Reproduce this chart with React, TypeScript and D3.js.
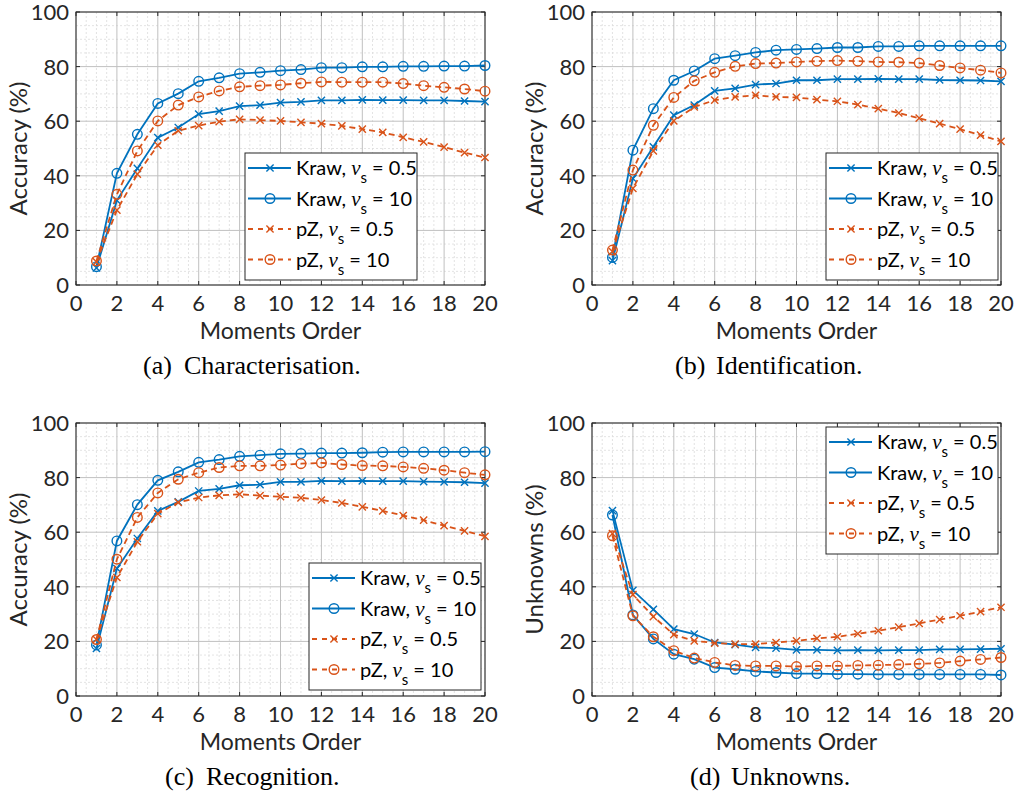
import React from "react";
import * as d3 from "d3";

const orders = [1, 2, 3, 4, 5, 6, 7, 8, 9, 10, 11, 12, 13, 14, 15, 16, 17, 18, 19, 20];
const xTicks = [0, 2, 4, 6, 8, 10, 12, 14, 16, 18, 20];
const yTicks = [0, 20, 40, 60, 80, 100];

// (a) Characterisation
const charKraw05 = [6.3, 31, 42.7, 54, 57.7, 62.6, 63.7, 65.5, 65.9, 66.8, 67.1, 67.6, 67.6, 67.8, 67.7, 67.7, 67.6, 67.6, 67.4, 67.2];
const charKraw10 = [6.7, 40.9, 55.2, 66.5, 70.1, 74.6, 75.9, 77.4, 77.9, 78.5, 78.9, 79.6, 79.6, 79.9, 79.9, 80.1, 80.1, 80.2, 80.2, 80.4];
const charPz05 = [8.5, 27.4, 40.6, 51.2, 56.5, 58.4, 59.8, 60.7, 60.4, 60.1, 59.6, 59.1, 58.3, 57.1, 55.9, 54.1, 52.4, 50.5, 48.5, 46.7];
const charPz10 = [8.8, 33.2, 49.1, 60.1, 65.9, 68.9, 71.1, 72.6, 73, 73.3, 73.9, 74.4, 74.3, 74.3, 74.3, 73.8, 73, 72.4, 71.8, 71];

// (b) Identification
const idKraw05 = [8.9, 39, 50.6, 62.2, 65.9, 71.1, 72, 73.4, 73.8, 75, 75, 75.4, 75.4, 75.5, 75.4, 75.4, 75.1, 75, 74.9, 74.6];
const idKraw10 = [10.1, 49.4, 64.6, 75, 78.4, 82.9, 84, 85.2, 86, 86.3, 86.6, 87, 87, 87.4, 87.4, 87.6, 87.6, 87.6, 87.6, 87.6];
const idPz05 = [12.2, 35.4, 49.1, 60.1, 65.2, 67.7, 68.9, 69.5, 68.9, 68.7, 67.9, 67.3, 66.1, 64.6, 63, 61.1, 59.1, 57.1, 54.9, 52.6];
const idPz10 = [12.8, 42.1, 58.5, 68.7, 74.8, 77.9, 80.1, 81.1, 81.3, 81.7, 82, 82.2, 82, 81.7, 81.6, 81.3, 80.4, 79.5, 78.7, 77.7];

// (c) Recognition
const recKraw05 = [17.4, 46.7, 57.7, 67.8, 71.1, 75.1, 75.9, 77.2, 77.4, 78.4, 78.4, 78.8, 78.7, 78.8, 78.7, 78.7, 78.5, 78.4, 78.3, 78];
const recKraw10 = [18.7, 56.8, 70.1, 79, 82.1, 85.6, 86.6, 87.8, 88.2, 88.7, 88.8, 89, 89, 89.1, 89.3, 89.4, 89.4, 89.4, 89.4, 89.5];
const recPz05 = [20.7, 43.4, 56.5, 66.8, 70.9, 72.7, 73.5, 73.9, 73.4, 73, 72.6, 71.8, 70.7, 69.3, 67.8, 66.1, 64.4, 62.4, 60.5, 58.5];
const recPz10 = [20.7, 50.1, 65.4, 74.4, 79.4, 81.8, 83.7, 84.3, 84.3, 84.6, 85.1, 85.4, 84.8, 84.4, 84.3, 83.9, 83.4, 82.7, 81.8, 81];

// (d) Unknowns
const unkKraw05 = [67.9, 38.7, 31.7, 24.5, 22.7, 19.6, 18.8, 17.8, 17.5, 16.9, 16.9, 16.7, 16.8, 16.7, 16.8, 16.8, 17.1, 17.1, 17.2, 17.3];
const unkKraw10 = [66.3, 29.7, 20.9, 15.3, 13.5, 10.4, 9.8, 9, 8.6, 8.2, 8.2, 8, 8, 7.9, 7.9, 7.9, 7.9, 7.9, 7.9, 7.7];
const unkPz05 = [59.5, 37.1, 29.1, 22.5, 20.2, 19.4, 19, 19, 19.6, 20.2, 21.1, 21.7, 22.8, 23.9, 25.2, 26.6, 28, 29.4, 30.9, 32.5];
const unkPz10 = [58.7, 29.4, 21.7, 16.6, 13.9, 12.3, 11.2, 11, 11, 10.8, 11, 11, 11.2, 11.3, 11.5, 11.8, 12.1, 12.8, 13.4, 14.1];

const seriesNames = ["Kraw", "Kraw", "pZ", "pZ"];
const seriesNu = ["0.5", "10", "0.5", "10"];

const BLUE = "#0072BD";
const ORANGE = "#D95319";
const styles = [
  { color: BLUE, dash: null, marker: "x" },
  { color: BLUE, dash: null, marker: "o" },
  { color: ORANGE, dash: "6,4", marker: "x" },
  { color: ORANGE, dash: "6,4", marker: "o" },
];

const panels = [
  { left: 76, top: 12, ylabel: "Accuracy (%)", tag: "(a)", caption: "Characterisation.", capX: 143, legX: 169, legY: 141, data: [charKraw05, charKraw10, charPz05, charPz10] },
  { left: 592, top: 12, ylabel: "Accuracy (%)", tag: "(b)", caption: "Identification.", capX: 675, legX: 234, legY: 141, data: [idKraw05, idKraw10, idPz05, idPz10] },
  { left: 76, top: 423, ylabel: "Accuracy (%)", tag: "(c)", caption: "Recognition.", capX: 165, legX: 233, legY: 140, data: [recKraw05, recKraw10, recPz05, recPz10] },
  { left: 592, top: 423, ylabel: "Unknowns (%)", tag: "(d)", caption: "Unknowns.", capX: 690, legX: 234, legY: 4, data: [unkKraw05, unkKraw10, unkPz05, unkPz10] },
];

const PW = 409;
const PH = 273;
const FONT = "Lato, 'Open Sans', sans-serif";
const SERIF = "'Liberation Serif', 'Times New Roman', serif";
const AXC = "#262626";

function Marker({ type, x, y, color }: { type: string; x: number; y: number; color: string }) {
  if (type === "o") {
    return <circle cx={x} cy={y} r={4.8} fill="none" stroke={color} strokeWidth={1.4} />;
  }
  const s = 3.6;
  return (
    <path d={`M${x - s},${y - s}L${x + s},${y + s}M${x - s},${y + s}L${x + s},${y - s}`} stroke={color} strokeWidth={1.4} fill="none" />
  );
}

function Panel({ p }: { p: (typeof panels)[number] }) {
  const x = d3.scaleLinear().domain([0, 20]).range([0, PW]);
  const y = d3.scaleLinear().domain([0, 100]).range([PH, 0]);
  const line = d3
    .line<number>()
    .x((_, i) => x(orders[i]))
    .y((d) => y(d));
  const minorX = d3.range(0, 20.01, 0.5).filter((v) => v % 2 !== 0);
  const minorY = d3.range(0, 100.01, 5).filter((v) => v % 20 !== 0);

  return (
    <g transform={`translate(${p.left},${p.top})`}>
      <rect width={PW} height={PH} fill="#fff" />
      {minorX.map((v) => (
        <line key={"mx" + v} x1={x(v)} x2={x(v)} y1={0} y2={PH} stroke="#dcdcdc" strokeWidth={0.8} strokeDasharray="2,2" />
      ))}
      {minorY.map((v) => (
        <line key={"my" + v} x1={0} x2={PW} y1={y(v)} y2={y(v)} stroke="#dcdcdc" strokeWidth={0.8} strokeDasharray="2,2" />
      ))}
      {xTicks.map((v) => (
        <line key={"gx" + v} x1={x(v)} x2={x(v)} y1={0} y2={PH} stroke="#c0c0c0" strokeWidth={1} />
      ))}
      {yTicks.map((v) => (
        <line key={"gy" + v} x1={0} x2={PW} y1={y(v)} y2={y(v)} stroke="#c0c0c0" strokeWidth={1} />
      ))}
      <rect width={PW} height={PH} fill="none" stroke={AXC} strokeWidth={1} />
      {xTicks.map((v) => (
        <g key={"tx" + v}>
          <line x1={x(v)} x2={x(v)} y1={PH} y2={PH - 4} stroke={AXC} />
          <line x1={x(v)} x2={x(v)} y1={0} y2={4} stroke={AXC} />
          <text x={x(v)} y={PH + 26} textAnchor="middle" fontSize={22} fill={AXC} fontFamily={FONT}>
            {v}
          </text>
        </g>
      ))}
      {yTicks.map((v) => (
        <g key={"ty" + v}>
          <line x1={0} x2={4} y1={y(v)} y2={y(v)} stroke={AXC} />
          <line x1={PW} x2={PW - 4} y1={y(v)} y2={y(v)} stroke={AXC} />
          <text x={-7} y={y(v)} dy="0.36em" textAnchor="end" fontSize={22} fill={AXC} fontFamily={FONT}>
            {v}
          </text>
        </g>
      ))}
      {p.data.map((vals, si) => (
        <g key={"s" + si}>
          <path d={line(vals) || ""} fill="none" stroke={styles[si].color} strokeWidth={1.8} strokeDasharray={styles[si].dash || undefined} />
          {vals.map((v, i) => (
            <Marker key={i} type={styles[si].marker} x={x(orders[i])} y={y(v)} color={styles[si].color} />
          ))}
        </g>
      ))}
      <text x={PW / 2} y={PH + 54} textAnchor="middle" fontSize={23} fill={AXC} fontFamily={FONT}>
        Moments Order
      </text>
      <text transform={`translate(${-49},${PH / 2}) rotate(-90)`} textAnchor="middle" fontSize={24} fill={AXC} fontFamily={FONT}>
        {p.ylabel}
      </text>
      <g transform={`translate(${p.legX},${p.legY})`}>
        <rect width={172} height={127} fill="#fff" stroke={AXC} strokeWidth={1} />
        {styles.map((st, i) => {
          const cy = 15 + i * 30.5;
          return (
            <g key={"l" + i}>
              <line x1={3} x2={46} y1={cy} y2={cy} stroke={st.color} strokeWidth={1.8} strokeDasharray={st.dash ? "5,5" : undefined} />
              <Marker type={st.marker} x={25} y={cy} color={st.color} />
              <text x={51} y={cy} dy="0.35em" fontSize={20} fill="#000" fontFamily={FONT}>
                {seriesNames[i]},{" "}
                <tspan fontFamily={SERIF} fontStyle="italic" fontSize={21}>
                  ν
                </tspan>
                <tspan dy={8} fontSize={15}>s</tspan>
                <tspan dy={-8}>{" = " + seriesNu[i]}</tspan>
              </text>
            </g>
          );
        })}
      </g>
    </g>
  );
}

export default function App() {
  return (
    <svg width={1021} height={800} style={{ position: "absolute", left: 0, top: 0, background: "#fff" }}>
      <rect width={1021} height={800} fill="#fff" />
      {panels.map((p, i) => (
        <g key={i} fontFamily={SERIF} fontSize={26} fill="#000">
          <Panel p={p} />
          <text x={p.capX} y={p.top + PH + 89}>
            {p.tag}
          </text>
          <text x={p.capX + 41} y={p.top + PH + 89}>
            {p.caption}
          </text>
        </g>
      ))}
    </svg>
  );
}
